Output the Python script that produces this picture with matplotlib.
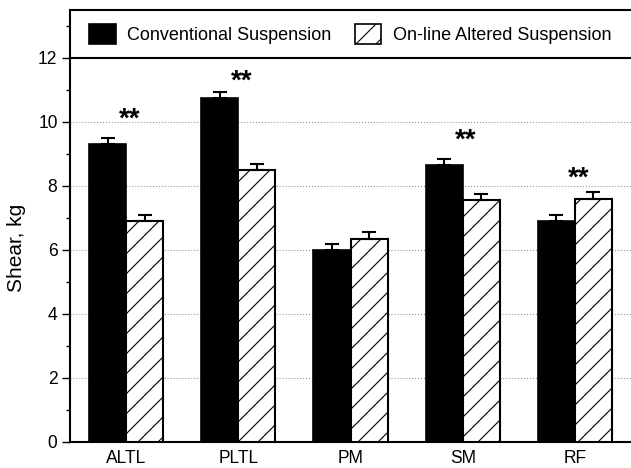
import numpy as np
import matplotlib
matplotlib.use("Agg")
import matplotlib.pyplot as plt
from matplotlib.patches import Patch
from matplotlib.ticker import MultipleLocator

# rendered at 120 dpi so the '//' hatch spacing matches the scan; sizes scaled by k
DPI = 120
k = 100 / DPI

plt.rcParams['font.family'] = ['Liberation Sans', 'DejaVu Sans']
plt.rcParams['hatch.linewidth'] = 0.8 * k

# data
muscles = ["ALTL", "PLTL", "PM", "SM", "RF"]
conventional = [9.3, 10.75, 6.0, 8.65, 6.9]
conventional_err = [0.2, 0.2, 0.2, 0.2, 0.2]
altered = [6.9, 8.5, 6.35, 7.55, 7.6]
altered_err = [0.2, 0.2, 0.2, 0.2, 0.2]
signif = ["**", "**", "", "**", "**"]
star_height = [10.07, 11.27, 0, 9.42, 8.22]

fig = plt.figure(figsize=(631 / DPI, 468 / DPI), dpi=DPI)
ax = fig.add_axes([70 / 631, 26 / 468, 561 / 631, 432 / 468])

x = np.arange(len(muscles))
w = 0.33

ax.bar(x - w / 2, conventional, w, color='black', edgecolor='black', linewidth=1.2 * k, zorder=3)
ax.bar(x + w / 2, altered, w, color='white', edgecolor='black', linewidth=1.5 * k,
       hatch='//', zorder=3)
ax.errorbar(x - w / 2, conventional, yerr=[np.zeros(len(x)), conventional_err],
            fmt='none', ecolor='black', elinewidth=1.5 * k, capsize=5 * k, capthick=1.5 * k, zorder=4)
ax.errorbar(x + w / 2, altered, yerr=[np.zeros(len(x)), altered_err],
            fmt='none', ecolor='black', elinewidth=1.5 * k, capsize=5 * k, capthick=1.5 * k, zorder=4)

for xi, s, h in zip(x, signif, star_height):
    if s:
        ax.text(xi + 0.03, h, s, ha='center', va='center', fontsize=20 * k,
                fontweight='bold', zorder=5)

ax.set_xlim(-0.5, 4.5)
ax.set_ylim(0, 13.5)
ax.set_xticks(x)
ax.set_xticklabels(muscles, fontsize=12.6 * k)
ax.set_yticks(np.arange(0, 13, 2))
ax.yaxis.set_minor_locator(MultipleLocator(1))
ax.tick_params(axis='x', length=0, pad=6 * k)
ax.tick_params(axis='y', which='major', length=6 * k, width=1 * k, labelsize=12.6 * k,
               direction='out', pad=3 * k)
ax.tick_params(axis='y', which='minor', length=3 * k, width=1 * k, direction='out')
ax.set_ylabel("Shear, kg", fontsize=15 * k)
ax.yaxis.set_label_coords(-0.078, 0.45)

ax.yaxis.grid(True, linestyle=':', color='#999999', linewidth=0.8 * k, zorder=0)
ax.set_axisbelow(True)
ax.axhline(12, color='black', linewidth=1.5 * k, zorder=6)

for sp in ['left', 'bottom', 'top']:
    ax.spines[sp].set_linewidth(1.5 * k)
ax.spines['right'].set_visible(False)

handles = [Patch(facecolor='black', edgecolor='black', label='Conventional Suspension'),
           Patch(facecolor='white', edgecolor='black', hatch='//', label='On-line Altered Suspension')]
ax.legend(handles=handles, ncol=2, loc='center', bbox_to_anchor=(0.5, 12.75 / 13.5),
          frameon=False, fontsize=13 * k, handlelength=1.45, handleheight=1.4,
          columnspacing=1.3, handletextpad=0.65)

fig.savefig("out.png", dpi=DPI)
